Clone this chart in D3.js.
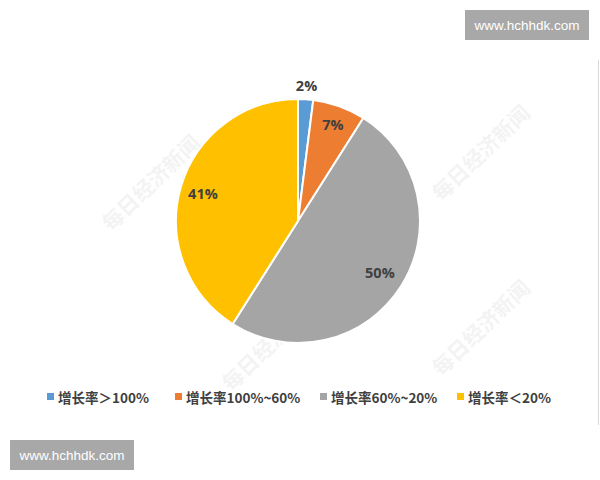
<!DOCTYPE html>
<html>
<head>
<meta charset="utf-8">
<script src="https://cdn.jsdelivr.net/npm/d3@7"></script>
<style>
  body { margin: 0; background: #fff; }
  svg { display: block; }
</style>
</head>
<body>
<div id="chart"></div>
<script>
(function(){
    const categories = ['增长率＞100%', '增长率100%~60%', '增长率60%~20%', '增长率＜20%'];
    const shares = [2, 7, 50, 41];
    const labels = ['2%', '7%', '50%', '41%'];
    const colors = ['#5b9bd5', '#ed7d31', '#a5a5a5', '#ffc000'];

    const width = 600;
    const height = 480;
    const cx = 298, cy = 221, radius = 122;

    const svg = d3.select('#chart')
        .append('svg')
            .attr('width', width)
            .attr('height', height);

    // faint newspaper watermarks
    const marks = [[150, 182], [480, 152], [480, 327], [268, 178], [270, 342]];
    svg.selectAll('.wm')
        .data(marks)
        .enter().append('text')
            .attr('class', 'wm')
            .attr('transform', d => `translate(${d[0]}, ${d[1]}) rotate(-44)`)
            .attr('text-anchor', 'middle')
            .attr('dominant-baseline', 'central')
            .style('font-family', '"Noto Sans CJK SC", serif')
            .style('font-size', '21px')
            .style('font-weight', 'bold')
            .style('fill', '#000')
            .style('opacity', 0.045)
            .text('每日经济新闻');

    const pie = d3.pie().sort(null).value(d => d);
    const arc = d3.arc().innerRadius(0).outerRadius(radius);

    const g = svg.append('g')
        .attr('transform', `translate(${cx}, ${cy})`);

    const arcs = pie(shares);

    g.selectAll('path')
        .data(arcs)
        .enter().append('path')
            .attr('d', arc)
            .style('fill', (d, i) => colors[i])
            .style('stroke', '#fff')
            .style('stroke-width', 2);

    // label positions: small slice outside, others inside
    const labelRadius = [136, 103, 97, 99];
    g.selectAll('.lbl')
        .data(arcs)
        .enter().append('text')
            .attr('class', 'lbl')
            .attr('transform', (d, i) => {
                const a = (d.startAngle + d.endAngle) / 2;
                const r = labelRadius[i];
                return `translate(${Math.sin(a) * r}, ${-Math.cos(a) * r})`;
            })
            .attr('text-anchor', 'middle')
            .attr('dominant-baseline', 'central')
            .style('font-family', '"Open Sans", "Noto Sans", sans-serif')
            .style('font-size', '14.5px')
            .style('font-weight', 'bold')
            .style('fill', '#404040')
            .text((d, i) => labels[i]);

    // legend
    const legendX = [47, 175, 320, 457];
    const legendY = 397;
    const legend = svg.selectAll('.legend')
        .data(categories)
        .enter().append('g')
            .attr('class', 'legend')
            .attr('transform', (d, i) => `translate(${legendX[i]}, ${legendY})`);

    legend.append('rect')
        .attr('x', 0)
        .attr('y', -4)
        .attr('width', 7)
        .attr('height', 7)
        .style('fill', (d, i) => colors[i]);

    legend.append('text')
        .attr('x', 11)
        .attr('y', 0)
        .attr('dominant-baseline', 'central')
        .style('font-family', '"Noto Sans CJK SC", sans-serif')
        .style('font-size', '13.5px')
        .style('font-weight', 'bold')
        .style('fill', '#404040')
        .text(d => d);

    // right border line
    svg.append('line')
        .attr('x1', 598.5).attr('x2', 598.5)
        .attr('y1', 60).attr('y2', 425)
        .style('stroke', '#d9d9d9')
        .style('stroke-width', 1);

    // site stamps
    const stamps = [[465, 10], [10, 440]];
    const stamp = svg.selectAll('.stamp')
        .data(stamps)
        .enter().append('g')
            .attr('class', 'stamp')
            .attr('transform', d => `translate(${d[0]}, ${d[1]})`);

    stamp.append('rect')
        .attr('width', 124)
        .attr('height', 30)
        .style('fill', '#a8a8a8');

    stamp.append('text')
        .attr('x', 62)
        .attr('y', 15)
        .attr('text-anchor', 'middle')
        .attr('dominant-baseline', 'central')
        .style('font-family', '"Liberation Sans", Arial, sans-serif')
        .style('font-size', '13.5px')
        .style('fill', '#fff')
        .text('www.hchhdk.com');
}())
</script>
</body>
</html>
